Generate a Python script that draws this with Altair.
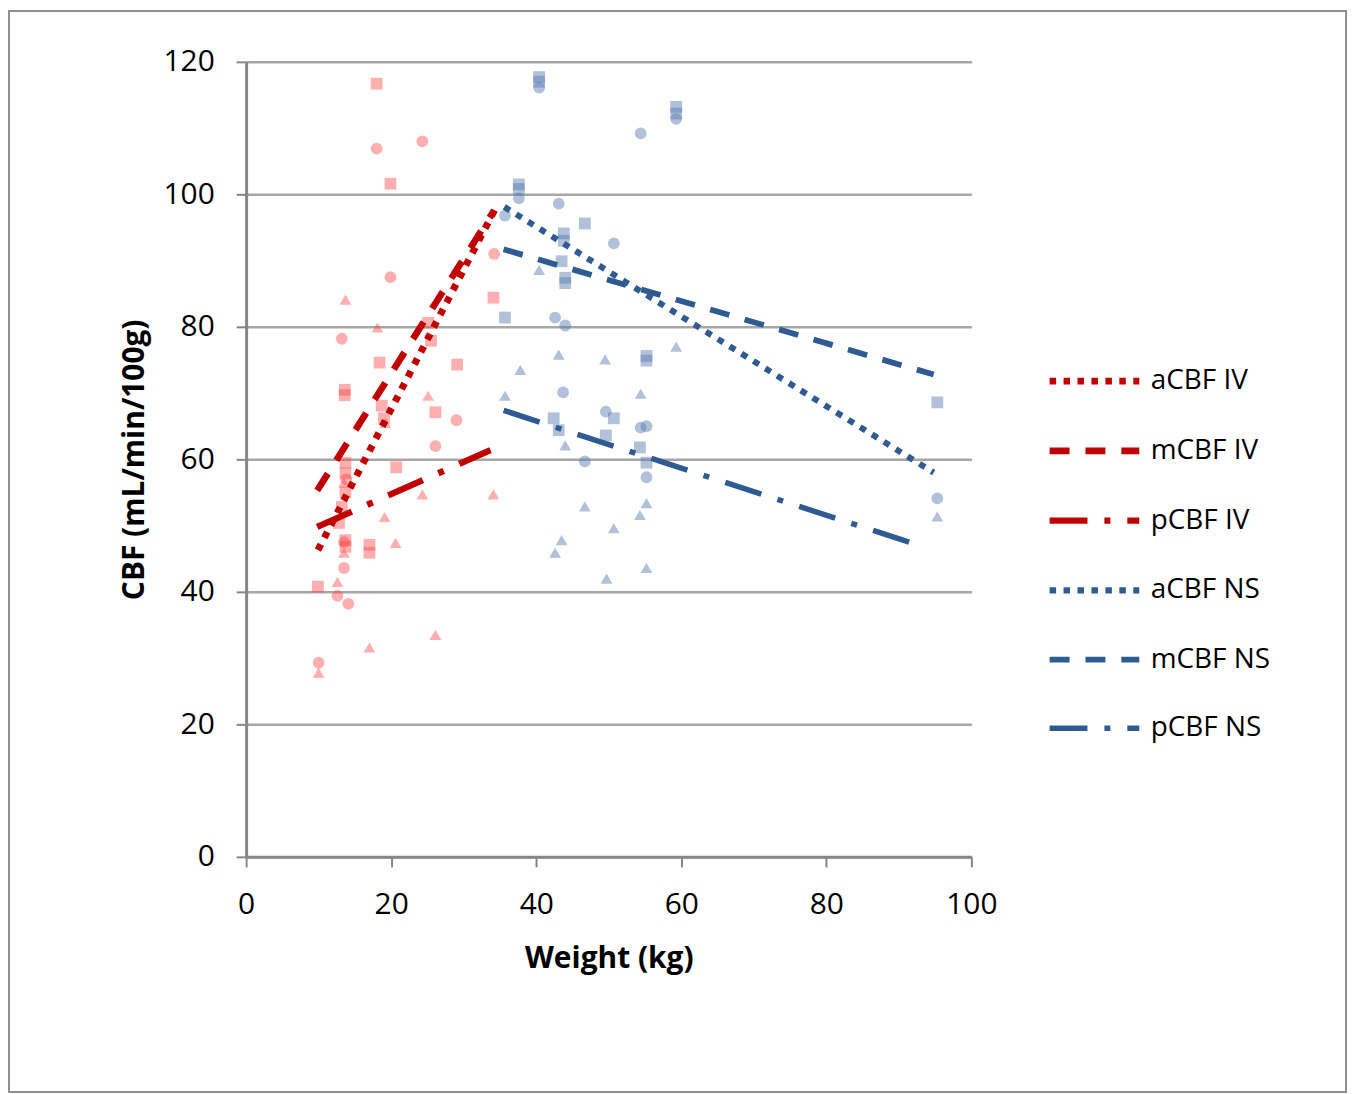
import altair as alt
import pandas as pd

# ---------------- data ----------------
# IV group (red) scatter points
iv_circle_x = [18.0, 24.3, 19.9, 13.2, 34.2, 29.0, 26.1, 13.5, 13.5, 12.6, 14.1, 10.0, 13.8]
iv_circle_y = [106.9, 108.0, 87.5, 78.2, 91.0, 65.9, 62.0, 47.5, 43.6, 39.4, 38.2, 29.3, 57.0]
iv_square_x = [18.0, 19.9, 34.1, 25.1, 25.5, 29.1, 18.4, 13.6, 13.6, 18.7, 19.0, 26.1, 13.7,
               20.7, 13.7, 13.7, 13.2, 12.8, 13.7, 13.7, 17.0, 17.0, 9.9]
iv_square_y = [116.7, 101.6, 84.4, 80.6, 77.9, 74.3, 74.6, 70.5, 69.7, 68.1, 66.2, 67.1, 59.5,
               58.8, 57.9, 55.0, 52.8, 50.4, 47.8, 46.8, 47.1, 45.9, 40.8]
iv_tri_x = [13.7, 18.1, 25.1, 19.2, 13.5, 24.3, 34.1, 19.1, 20.6, 13.5, 12.6, 26.1, 17.0, 10.0]
iv_tri_y = [84.1, 79.9, 69.6, 65.5, 56.5, 54.7, 54.7, 51.3, 47.4, 45.9, 41.5, 33.5, 31.6, 27.8]

# NS group (blue) scatter points
ns_circle_x = [40.4, 59.3, 54.4, 37.6, 43.1, 35.7, 50.7, 42.6, 44.0, 43.7, 49.6, 54.4, 55.2,
               46.7, 55.2, 95.3]
ns_circle_y = [116.1, 111.4, 109.2, 99.4, 98.6, 96.8, 92.6, 81.4, 80.2, 70.1, 67.2, 64.8, 65.0,
               59.7, 57.3, 54.1]
ns_square_x = [40.4, 40.4, 59.3, 59.3, 37.6, 37.6, 46.7, 43.8, 43.8, 43.5, 44.0, 44.0, 35.7,
               55.2, 55.2, 50.7, 42.4, 43.1, 49.6, 54.3, 55.2, 95.3]
ns_square_y = [117.7, 117.0, 113.2, 112.2, 101.5, 100.8, 95.6, 94.1, 93.0, 89.9, 87.4, 86.6, 81.4,
               75.6, 74.9, 66.2, 66.2, 64.4, 63.6, 61.8, 59.5, 68.6]
ns_tri_x = [40.4, 59.3, 43.1, 49.5, 37.8, 54.4, 35.7, 44.0, 46.7, 55.2, 54.3, 50.7, 43.5, 42.6,
            55.2, 49.7, 95.3]
ns_tri_y = [88.6, 77.0, 75.8, 75.1, 73.5, 69.9, 69.6, 62.1, 52.9, 53.4, 51.6, 49.6, 47.8, 45.9,
            43.6, 42.0, 51.4]

# Trend lines (start / end)
line_series = ["aCBF IV", "mCBF IV", "pCBF IV", "aCBF NS", "mCBF NS", "pCBF NS"]
line_x0 = [9.9, 9.8, 9.8, 35.6, 35.5, 35.5]
line_y0 = [46.3, 55.3, 49.8, 98.1, 91.7, 67.4]
line_x1 = [34.3, 34.1, 33.7, 94.8, 94.8, 93.1]
line_y1 = [97.7, 97.4, 61.4, 58.0, 72.8, 46.9]

x_ticks = [0, 20, 40, 60, 80, 100]
y_ticks = [0, 20, 40, 60, 80, 100, 120]

# ---------------- build tables ----------------
rows = []
for grp, sets in (("IV", [("circle", iv_circle_x, iv_circle_y), ("square", iv_square_x, iv_square_y),
                          ("triangle", iv_tri_x, iv_tri_y)]),
                  ("NS", [("circle", ns_circle_x, ns_circle_y), ("square", ns_square_x, ns_square_y),
                          ("triangle", ns_tri_x, ns_tri_y)])):
    for shp, xs_, ys_ in sets:
        for xv, yv in zip(xs_, ys_):
            rows.append({"group": grp, "shape": shp, "weight": xv, "cbf": yv})
pts = pd.DataFrame(rows)

lrows = []
for s, a, b, c, d in zip(line_series, line_x0, line_y0, line_x1, line_y1):
    lrows.append({"series": s, "weight": a, "cbf": b, "order": 0})
    lrows.append({"series": s, "weight": c, "cbf": d, "order": 1})
lines = pd.DataFrame(lrows)

RED = "#C00000"
BLUE = "#2F5B93"
line_colors = [RED, RED, RED, BLUE, BLUE, BLUE]
dot = [6.5, 7.5]
dash = [20, 16]
dashdot = [38, 17, 6, 17]
line_dashes = [dot, dash, dashdot, dot, dash, dashdot]
line_widths = [7, 5.5, 5.5, 7, 5.5, 5.5]

FONT = "Open Sans"

xs = alt.Scale(domain=[0, 100], nice=False)
ys = alt.Scale(domain=[0, 120], nice=False)

x_enc = alt.X("weight:Q", scale=xs, title="Weight (kg)",
              axis=alt.Axis(values=x_ticks, grid=False, labelFlush=False))
y_enc = alt.Y("cbf:Q", scale=ys, title="CBF (mL/min/100g)",
              axis=alt.Axis(values=y_ticks, grid=True, labelFlush=False))

shape_enc = alt.Shape("shape:N", scale=alt.Scale(domain=["circle", "square", "triangle"],
                                                 range=["circle", "square", "triangle-up"]),
                      legend=None)

iv_pts = alt.Chart(pts).transform_filter(alt.datum.group == "IV").mark_point(
    filled=True, size=140, color="#FF4040", opacity=0.42, strokeWidth=1
).encode(x=x_enc, y=y_enc, shape=shape_enc)

ns_pts = alt.Chart(pts).transform_filter(alt.datum.group == "NS").mark_point(
    filled=True, size=140, color="#5A7DB0", opacity=0.48, strokeWidth=1
).encode(x=x_enc, y=y_enc, shape=shape_enc)

legend_common = dict(orient="none", legendX=803, legendY=272, symbolType="stroke",
                     symbolSize=8100, symbolStrokeWidth=6, labelFontSize=28,
                     labelFont=FONT, labelColor="#000", labelOffset=8,
                     rowPadding=7, title=None)

line_layer = alt.Chart(lines).mark_line(strokeCap="butt").encode(
    x=x_enc, y=y_enc, order="order:Q",
    color=alt.Color("series:N", scale=alt.Scale(domain=line_series, range=line_colors), title=None,
                    legend=alt.Legend(**legend_common)),
    strokeDash=alt.StrokeDash("series:N", scale=alt.Scale(domain=line_series, range=line_dashes),
                              title=None, legend=alt.Legend(**legend_common)),
    strokeWidth=alt.StrokeWidth("series:N", scale=alt.Scale(domain=line_series, range=line_widths),
                                legend=None),
)

frame = alt.Chart(pd.DataFrame({"f": [0]})).mark_rect(
    fillOpacity=0, stroke="#8f8f8f", strokeWidth=2
).encode(x=alt.value(-238), x2=alt.value(1104), y=alt.value(-51), y2=alt.value(1034))

chart = alt.layer(frame, iv_pts, ns_pts, line_layer).properties(
    width=728, height=798, padding=0
).configure_view(stroke=None).configure_axis(
    labelFont=FONT, titleFont=FONT, labelFontSize=30, titleFontSize=30, labelColor="#000",
    titleColor="#000", domainColor="#868686", domainWidth=3, tickColor="#868686", tickWidth=2,
    tickSize=10, gridColor="#a6a6a6", gridWidth=2.5
).configure_axisY(titlePadding=14, labelPadding=22).configure_axisX(titlePadding=24, labelPadding=23)

chart.save("out.html", embed_options={"renderer": "svg", "actions": False})
